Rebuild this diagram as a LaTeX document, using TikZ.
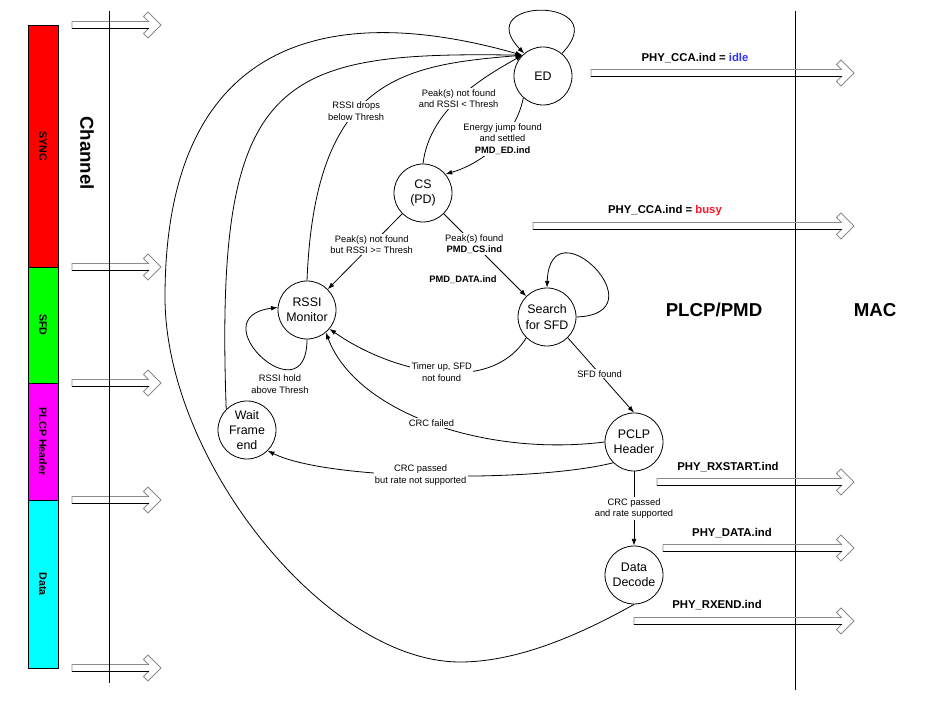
\documentclass[tikz,border=0pt]{standalone}
\usepackage{fontspec}
\setmainfont{Liberation Sans}
\usetikzlibrary{arrows.meta}
\definecolor{idleblue}{RGB}{50,50,255}
\definecolor{busyred}{RGB}{255,20,40}
\definecolor{syncred}{RGB}{255,0,0}
\definecolor{sfdgreen}{RGB}{0,255,0}
\definecolor{hdrmagenta}{RGB}{255,0,255}
\definecolor{datacyan}{RGB}{0,255,255}
\newcommand{\hollowarrow}[3]{%
  \draw[black!45] (#1,{#3+3.5}) -- ({#2-12.5},{#3+3.5}) -- ({#2-17.5},{#3+8.5})
    -- ({#2-13},{#3+13}) -- (#2,#3) -- ({#2-13},{#3-13}) -- ({#2-17.5},{#3-8.5})
    -- ({#2-12.5},{#3-3.5}) -- (#1,{#3-3.5}) -- cycle;
  \draw (#1,{#3-3.5}) -- ({#2-12.5},{#3-3.5});}
\begin{document}
\begin{tikzpicture}[x=0.75pt,y=0.75pt,line width=0.6pt,>={Latex[length=5pt,width=3.6pt]}]
  \tikzstyle{state}=[circle,draw,minimum size=43.5pt,inner sep=0pt,align=center,font=\fontsize{9.3}{11.4}\selectfont]
  \tikzstyle{lbl}=[fill=white,inner sep=1pt,align=center,font=\fontsize{7}{8.8}\selectfont]
  \tikzstyle{phy}=[inner sep=1pt,font=\bfseries\fontsize{8.5}{10}\selectfont]
  \tikzstyle{big}=[inner sep=1pt,font=\bfseries\fontsize{14}{16}\selectfont]
  \tikzstyle{bar}=[inner sep=1pt,font=\bfseries\fontsize{8}{10}\selectfont]
  \useasboundingbox (0,0) rectangle (930,717);
  \foreach \ya/\yb/\col/\txt [count=\i] in {450/692/syncred/SYNC,334/450/sfdgreen/SFD,217/334/hdrmagenta/PLCP Header,49/217/datacyan/Data}
  {
    \draw[fill=\col] (28,\ya) rectangle (58,\yb);
    \node[bar,rotate=-90] (seg\i) at (43,{(\ya+\yb)/2}) {\txt};
  }
  \foreach \y in {692,450,334,217,49} \hollowarrow{72}{161}{\y};
  \draw (109,706) -- (109,34);
  \node[big,rotate=-90] (chan) at (87,564) {Channel};
  \draw (795,706) -- (795,27);
  \node[big] (plcp) at (714,407) {PLCP/PMD};
  \node[big] (mac) at (875,407) {MAC};
  \hollowarrow{591}{854}{644}
  \hollowarrow{533}{854}{491}
  \hollowarrow{657}{854}{235}
  \hollowarrow{663}{854}{169}
  \hollowarrow{634}{854}{96}
  \node[phy] (idle) at (695,659) {PHY\_CCA.ind = \textcolor{idleblue}{idle}};
  \node[phy] (busy) at (665,506) {PHY\_CCA.ind = \textcolor{busyred}{busy}};
  \node[phy] (rxstart) at (728,250) {PHY\_RXSTART.ind};
  \node[phy] (rxdata) at (732,184) {PHY\_DATA.ind};
  \node[phy] (rxend) at (717,112) {PHY\_RXEND.ind};

  \node[state] (ED) at (543,641) {ED};
  \node[state] (CS) at (423,524) {CS\\(PD)};
  \node[state] (RSSI) at (307,407) {RSSI\\Monitor};
  \node[state] (SFD) at (547,400) {Search\\for SFD};
  \node[state] (WFE) at (247,287) {Wait\\Frame\\end};
  \node[state] (PHDR) at (634,275) {PCLP\\Header};
  \node[state] (DD) at (634,142) {Data\\Decode};
  \node[lbl,font=\bfseries\fontsize{7}{8.8}\selectfont] (pmddata) at (463,437) {PMD\_DATA.ind};
  \node[lbl] (hold) at (280,333) {RSSI hold\\above Thresh};
  \coordinate (bot) at (460,55);
  \coordinate (lft) at (165,420);

  \draw[->] (ED.50) .. controls +(55,57) and +(-55,57) .. (ED.130);
  \draw[->] (RSSI.south) .. controls +(0,-80) and +(-80,-10) .. (RSSI.175);
  \draw[->] (SFD.east) .. controls +(86,3) and +(3,86) .. (SFD.north);
  \draw[->] (ED.228) .. controls +(-8,-40) and +(35,10) .. (CS.40)
    node[lbl,pos=0.4] (jump) {Energy jump found\\and settled\\\textbf{PMD\_ED.ind}};
  \draw[->] (CS.north) .. controls +(7,57) and +(-35,-20) .. (ED.135)
    node[lbl,pos=0.47] (nolow) {Peak(s) not found\\and RSSI < Thresh};
  \draw[->] (RSSI.north) .. controls +(8,204) and +(-118,-10) .. (ED.135)
    node[lbl,pos=0.42] (drops) {RSSI drops\\below Thresh};
  \draw[->] (CS.225) -- (RSSI.45) node[lbl,pos=0.41] (nohigh) {Peak(s) not found\\but RSSI >= Thresh};
  \draw[->] (CS.-45) -- (SFD.135) node[lbl,pos=0.37] (found) {Peak(s) found\\\textbf{PMD\_CS.ind}};
  \draw[->] (SFD.225) .. controls +(-36,-59) and +(61,-43) .. (RSSI.-40)
    node[lbl,pos=0.48] (timer) {Timer up, SFD\\not found};
  \draw[->] (SFD.-45) -- (PHDR.north) node[lbl,pos=0.48] (sfdok) {SFD found};
  \draw[->] (PHDR.180) .. controls +(-120,-15) and +(30,-80) .. (RSSI.-50)
    node[lbl,pos=0.5] (crcbad) {CRC failed};
  \draw[->] (PHDR.225) .. controls +(-80,-20) and +(60,-30) .. (WFE.-45)
    node[lbl,pos=0.53] (rateno) {CRC passed\\but rate not supported};
  \draw[->] (PHDR.south) -- (DD.north) node[lbl,pos=0.5] (rateok) {CRC passed\\and rate supported};
  \draw[->] (WFE.135) .. controls +(-12,332) and +(-247,4) .. (ED.135);
  \draw[->] (DD.south) .. controls +(-50,-28) and +(60,0) .. (bot)
    .. controls +(-133,0) and +(0,-164) .. (lft)
    .. controls +(0,250) and +(-204,58) .. (ED.135);
\end{tikzpicture}
\end{document}
